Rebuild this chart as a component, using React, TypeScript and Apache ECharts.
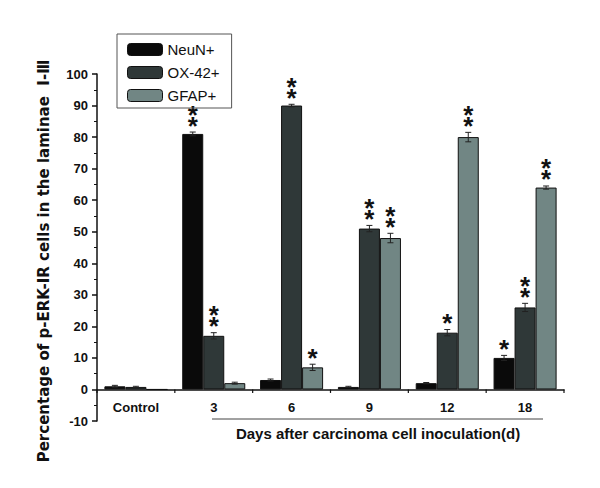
import React, { useEffect, useRef } from "react";
import * as echarts from "echarts";

const categories = ["Control", "3", "6", "9", "12", "18"];
const seriesNames = ["NeuN+", "OX-42+", "GFAP+"];
const neunValues = [1.0, 81, 3, 0.8, 2, 10];
const ox42Values = [0.8, 17, 90, 51, 18, 26];
const gfapValues = [0, 2, 7, 48, 80, 64];
const neunErrors = [0.3, 0.6, 0.3, 0.2, 0.2, 0.8];
const ox42Errors = [0.2, 1.0, 0.4, 1.0, 1.0, 1.3];
const gfapErrors = [0, 0.3, 1.0, 1.5, 1.5, 0.5];
const neunStars = [0, 2, 0, 0, 0, 1];
const ox42Stars = [0, 2, 2, 2, 1, 2];
const gfapStars = [0, 0, 1, 2, 2, 2];
const yTicks = [-10, 0, 10, 20, 30, 40, 50, 60, 70, 80, 90, 100];
const colors = ["#0a0a0a", "#2f3838", "#718684"];

const allValues = [neunValues, ox42Values, gfapValues];
const allErrors = [neunErrors, ox42Errors, gfapErrors];
const allStars = [neunStars, ox42Stars, gfapStars];

const FONT = "Liberation Sans, Arial, sans-serif";

const GRID_TOP = 74;
const GRID_BOTTOM = 67;
const CHART_H = 488;
const Y_MIN = -10;
const Y_MAX = 100;

export default function App() {
  const ref = useRef<HTMLDivElement>(null);
  useEffect(() => {
    if (!ref.current) return;
    const chart = echarts.init(ref.current, null, { renderer: "svg" });
    const gridH = CHART_H - GRID_TOP - GRID_BOTTOM;
    const zeroFromBottom = (gridH * (0 - Y_MIN)) / (Y_MAX - Y_MIN);
    const barSeries = seriesNames.map((name, k) => ({
      name,
      type: "bar",
      data: allValues[k],
      barGap: "0%",
      barCategoryGap: "19%",
      itemStyle: { color: colors[k], borderColor: "#111", borderWidth: 1 },
      z: 2,
    }));
    const errSeries = seriesNames.map((name, k) => ({
      type: "custom",
      z: 3,
      silent: true,
      data: categories.map((_, i) => [i, allValues[k][i], allErrors[k][i], allStars[k][i]]),
      renderItem: (params: any, api: any) => {
        const cat = api.value(0);
        const v = api.value(1);
        const e = api.value(2);
        const s = api.value(3);
        const band = api.size([1, 0])[0];
        const bw = (band * 0.81) / 3;
        const c = api.coord([cat, v]);
        const x = c[0] + (k - 1) * bw;
        const top = api.coord([cat, v + e])[1];
        const bot = api.coord([cat, v - e])[1];
        const children: any[] = [];
        if (e > 0) {
          const st = { stroke: "#222", lineWidth: 1 };
          children.push({ type: "line", shape: { x1: x, y1: top, x2: x, y2: bot }, style: st });
          children.push({ type: "line", shape: { x1: x - 3, y1: top, x2: x + 3, y2: top }, style: st });
          children.push({ type: "line", shape: { x1: x - 3, y1: bot, x2: x + 3, y2: bot }, style: st });
        }
        if (s > 0) {
          const lines: string[] = [];
          for (let j = 0; j < s; j++) lines.push("*");
          children.push({
            type: "text",
            style: {
              text: lines.join("\n"),
              x,
              y: top - 1,
              align: "center",
              verticalAlign: "bottom",
              lineHeight: 11,
              font: "bold 26px " + FONT,
              fill: "#111",
            },
          });
        }
        return { type: "group", children };
      },
    }));
    const boundaryTicks = {
      type: "custom",
      z: 3,
      silent: true,
      data: categories.map((_, i) => [i, 0]),
      renderItem: (params: any, api: any) => {
        const i = api.value(0);
        const band = api.size([1, 0])[0];
        const c = api.coord([i, 0]);
        const xs = [c[0] - band / 2];
        if (i === categories.length - 1) xs.push(c[0] + band / 2);
        return {
          type: "group",
          children: xs.map((x) => ({
            type: "line",
            shape: { x1: x, y1: c[1], x2: x, y2: c[1] + 3.5 },
            style: { stroke: "#111", lineWidth: 1.2 },
          })),
        };
      },
    };
    chart.setOption({
      animation: false,
      grid: { left: 97, right: 36, top: GRID_TOP, bottom: GRID_BOTTOM, containLabel: false },
      legend: {
        data: seriesNames,
        orient: "vertical",
        left: 117,
        top: 34,
        itemWidth: 35,
        itemHeight: 12,
        itemGap: 8,
        padding: [8, 12, 5, 10],
        borderColor: "#555",
        borderWidth: 1,
        textStyle: { fontFamily: FONT, fontSize: 15, color: "#111" },
        itemStyle: { borderColor: "#111", borderWidth: 1 },
      },
      xAxis: {
        type: "category",
        data: categories,
        position: "bottom",
        offset: -zeroFromBottom,
        axisLine: { onZero: false, lineStyle: { color: "#111", width: 1.5 } },
        axisTick: { alignWithLabel: true, length: 6, lineStyle: { color: "#111", width: 1.5 } },
        axisLabel: {
          fontFamily: FONT,
          fontWeight: "bold",
          fontSize: 13,
          color: "#111",
          margin: 12,
        },
        splitLine: { show: false },
      },
      yAxis: {
        type: "value",
        min: Y_MIN,
        max: Y_MAX,
        interval: 10,
        axisLine: { show: true, lineStyle: { color: "#111", width: 1.5 } },
        axisTick: { show: true, length: 5, lineStyle: { color: "#111", width: 1.5 } },
        minorTick: { show: true, splitNumber: 2, length: 3, lineStyle: { color: "#111", width: 1 } },
        splitLine: { show: false },
        axisLabel: {
          fontFamily: FONT,
          fontWeight: "bold",
          fontSize: 13,
          color: "#111",
          margin: 9,
          formatter: (v: number) => (yTicks.includes(v) ? String(v) : ""),
        },
      },
      series: [...barSeries, ...errSeries, boundaryTicks],
      graphic: [
        {
          type: "text",
          x: 44,
          y: 261,
          rotation: Math.PI / 2,
          style: {
            text: "Percentage of p-ERK-IR cells in the laminae  Ⅰ-Ⅲ",
            font: "bold 15px DejaVu Sans, sans-serif",
            fill: "#111",
            align: "center",
            verticalAlign: "middle",
          },
        },
        {
          type: "line",
          shape: { x1: 212, y1: 419, x2: 543, y2: 419 },
          style: { stroke: "#444", lineWidth: 1 },
        },
        {
          type: "text",
          x: 378,
          y: 433,
          style: {
            text: "Days after carcinoma cell inoculation(d)",
            font: "bold 15px " + FONT,
            fill: "#111",
            align: "center",
            verticalAlign: "middle",
          },
        },
      ],
    });
    return () => chart.dispose();
  }, []);
  return (
    <div
      ref={ref}
      style={{ position: "absolute", left: 0, top: 0, width: 600, height: 488 }}
    />
  );
}
